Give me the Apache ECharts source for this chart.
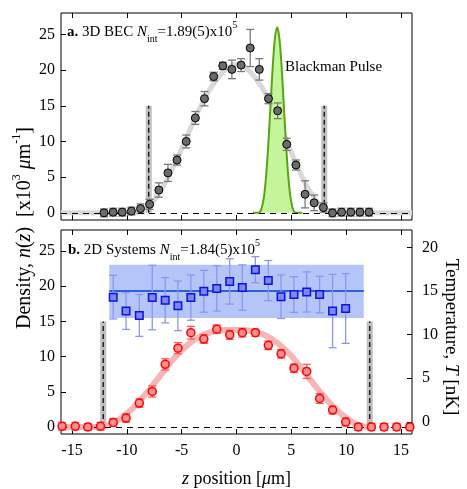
<!DOCTYPE html>
<html>
<head>
<meta charset="utf-8">
<title>Density profiles</title>
<script src="https://cdn.jsdelivr.net/npm/echarts@6/dist/echarts.min.js"></script>
<style>html,body{margin:0;padding:0;background:#fff;}</style>
</head>
<body>
<div id="main" style="width:467px;height:489px;"></div>
<script type="text/javascript">
// panel a: 3D BEC
var becZ = [-12.08, -11.25, -10.42, -9.58, -8.75, -7.92, -7.08, -6.25, -5.42, -4.58, -3.75, -2.92, -2.08, -1.25, -0.42,
            0.42, 1.25, 2.08, 2.92, 3.75, 4.58, 5.42, 6.25, 7.08, 7.92, 8.75, 9.58, 10.42, 11.25, 12.08];
var becN = [0, 0.1, 0.1, 0.25, 0.6, 1.2, 3.2, 5.6, 7.4, 10.0, 13.3, 16.0, 19.1, 20.6, 20.1,
            20.7, 23.1, 20.1, 16.0, 14.3, 9.6, 6.7, 2.6, 1.4, 0.75, 0, 0.1, 0.1, 0.1, 0.1];
var becErr = [0.55, 0.55, 0.55, 0.55, 0.65, 0.7, 1.0, 1.2, 0.7, 0.9, 0.9, 1.0, 0.6, 0.5, 1.3,
              0.9, 2.6, 1.5, 0.7, 1.1, 0.85, 0.7, 1.9, 1.1, 0.65, 0.55, 0.55, 0.55, 0.55, 0.55];
var becFitZ = [-16, -10, -9.5, -9, -8.5, -8, -7.5, -7, -6.5, -6, -5.5, -5, -4.5, -4, -3.5, -3, -2.5, -2, -1.5, -1, -0.5, 0,
               0.5, 1, 1.5, 2, 2.5, 3, 3.5, 4, 4.5, 5, 5.5, 6, 6.5, 7, 7.5, 8, 8.5, 9, 9.5, 10, 16];
var becFit = [0, 0, 0.02, 0.1, 0.4, 1.0, 1.8, 2.9, 4.2, 5.7, 7.3, 9.0, 10.8, 12.5, 14.2, 15.7, 17.1, 18.3, 19.3, 20.1, 20.6, 20.8,
              20.6, 20.1, 19.3, 18.3, 17.1, 15.6, 14.0, 12.2, 10.4, 8.5, 6.7, 5.0, 3.5, 2.3, 1.3, 0.6, 0.2, 0.05, 0, 0, 0];
var pulseZ = [1.5, 2.0, 2.1, 2.3, 2.5, 2.7, 2.9, 3.1, 3.3, 3.5, 3.7, 3.9, 4.1, 4.3, 4.5, 4.7, 4.9, 5.1, 5.3, 5.5, 6.0];
var pulseN = [0, 0, 0.05, 0.7, 2.2, 5.2, 9.6, 15.0, 20.4, 24.4, 26.0, 24.6, 20.8, 15.4, 10.0, 5.5, 2.4, 0.75, 0.06, 0, 0];
var edgesA = [-8, 8];

// panel b: 2D systems
var sysZ = [-15.9, -14.7, -13.55, -12.4, -11.24, -10.07, -8.86, -7.68, -6.5, -5.34, -4.16, -2.98, -1.8, -0.62,
            0.53, 1.72, 2.9, 4.06, 5.24, 6.4, 7.58, 8.76, 9.95, 11.1, 12.3, 13.45, 14.6, 15.8];
var sysN = [0.1, 0.1, 0, 0.1, 0.65, 1.27, 3.4, 5.05, 8.9, 11.2, 13.4, 12.5, 13.9, 13.1,
            13.4, 13.4, 11.6, 10.4, 8.35, 7.9, 4.05, 2.4, 0.7, 0, 0, 0, 0, 0];
var sysErr = [0.55, 0.55, 0.5, 0.55, 0.55, 0.6, 0.6, 0.8, 0.8, 0.8, 0.9, 0.6, 0.6, 0.65,
              0.6, 0.5, 0.6, 0.6, 0.6, 1.0, 0.7, 0.55, 0.55, 0.5, 0.5, 0.5, 0.5, 0.5];
var sysFitZ = [-16, -12.5, -12, -11.5, -11, -10.5, -10, -9.5, -9, -8.5, -8, -7.5, -7, -6.5, -6, -5.5, -5, -4.5, -4, -3.5, -3, -2.5, -2, -1.5, -1, -0.5, 0,
               0.5, 1, 1.5, 2, 2.5, 3, 3.5, 4, 4.5, 5, 5.5, 6, 6.5, 7, 7.5, 8, 8.5, 9, 9.5, 10, 10.5, 11, 11.5, 12, 12.5, 16];
var sysFit = [0, 0, 0.1, 0.35, 0.75, 1.3, 1.9, 2.6, 3.4, 4.3, 5.2, 6.2, 7.2, 8.2, 9.2, 10.1, 10.9, 11.6, 12.2, 12.7, 13.1, 13.4, 13.6, 13.7, 13.8, 13.8, 13.8,
              13.8, 13.7, 13.6, 13.4, 13.1, 12.7, 12.2, 11.6, 10.9, 10.1, 9.2, 8.2, 7.2, 6.2, 5.2, 4.3, 3.4, 2.6, 1.9, 1.3, 0.75, 0.35, 0.1, 0, 0];
var tempZ = [-11.24, -10.07, -8.86, -7.68, -6.5, -5.34, -4.16, -2.98, -1.8, -0.62, 0.53, 1.72, 2.9, 4.06, 5.24, 6.4, 7.58, 8.76, 9.95];
var tempT = [14.3, 12.7, 12.2, 14.25, 13.95, 13.3, 14.25, 14.97, 15.3, 16.1, 15.4, 17.45, 16.2, 14.35, 14.6, 14.9, 14.6, 12.7, 13.0];
var tempErr = [2.5, 2.1, 2.4, 3.7, 2.6, 2.85, 2.6, 2.4, 2.6, 2.6, 2.6, 1.5, 2.3, 2.5, 2.05, 2.3, 2.1, 4.2, 4.0];
var tempMean = 15.0, tempLow = 11.9, tempHigh = 18.0, bandZ = [-11.6, 11.6];
var edgesB = [-12.15, 12.15];
var edgeTop = 15;

var zTicks = [-15, -10, -5, 0, 5, 10, 15];
var nTicks = [0, 5, 10, 15, 20, 25];
var tTicks = [0, 5, 10, 15, 20];

var FONT = 'Liberation Serif';

function pairs(xs, ys) {
    return xs.map(function (x, i) { return [x, ys[i]]; });
}

function errorBars(zs, vs, es, color, xi, yi) {
    return {
        type: 'custom', xAxisIndex: xi, yAxisIndex: yi, z: 4,
        data: zs.map(function (z, i) { return [z, vs[i] - es[i], vs[i] + es[i]]; }),
        encode: { x: 0, y: [1, 2] },
        renderItem: function (params, api) {
            var lo = api.coord([api.value(0), api.value(1)]);
            var hi = api.coord([api.value(0), api.value(2)]);
            var w = 4;
            var st = { stroke: color, lineWidth: 1.3 };
            return {
                type: 'group', children: [
                    { type: 'line', shape: { x1: lo[0], y1: lo[1], x2: hi[0], y2: hi[1] }, style: st },
                    { type: 'line', shape: { x1: lo[0] - w, y1: lo[1], x2: lo[0] + w, y2: lo[1] }, style: st },
                    { type: 'line', shape: { x1: hi[0] - w, y1: hi[1], x2: hi[0] + w, y2: hi[1] }, style: st }
                ]
            };
        }
    };
}

function edgeBars(xs, xi, yi) {
    return {
        type: 'custom', xAxisIndex: xi, yAxisIndex: yi, z: 2,
        data: xs.map(function (x) { return [x, 0, edgeTop]; }),
        encode: { x: 0, y: [1, 2] },
        renderItem: function (params, api) {
            var lo = api.coord([api.value(0), api.value(1)]);
            var hi = api.coord([api.value(0), api.value(2)]);
            return {
                type: 'group', children: [
                    { type: 'rect', shape: { x: lo[0] - 3, y: hi[1], width: 6, height: lo[1] - hi[1] }, style: { fill: '#bfbfbf' } },
                    { type: 'line', shape: { x1: lo[0], y1: lo[1], x2: hi[0], y2: hi[1] }, style: { stroke: '#000', lineWidth: 1.2, lineDash: [5, 3] } }
                ]
            };
        }
    };
}

function zeroLine() {
    return {
        silent: true, symbol: 'none', label: { show: false },
        lineStyle: { color: '#000', width: 1, type: [6, 5] },
        data: [{ yAxis: 0 }]
    };
}

function xAx(grid, pos, labels) {
    return {
        type: 'value', gridIndex: grid, position: pos, min: -16, max: 16,
        axisLine: { show: false, onZero: false },
        axisTick: { show: true, inside: true, length: 5, lineStyle: { color: '#000' }, customValues: zTicks },
        axisLabel: { show: labels, customValues: zTicks, color: '#000', fontFamily: FONT, fontSize: 16, margin: 9 },
        splitLine: { show: false }
    };
}

function yAx(grid, pos, min, max, ticks) {
    return {
        type: 'value', gridIndex: grid, position: pos, min: min, max: max,
        axisLine: { show: false, onZero: false },
        axisTick: { show: true, inside: true, length: 5, lineStyle: { color: '#000' }, customValues: ticks },
        axisLabel: { show: true, customValues: ticks, color: '#000', fontFamily: FONT, fontSize: 16, margin: pos === 'left' ? 6 : 10 },
        splitLine: { show: false }
    };
}

var myChart = echarts.init(document.getElementById('main'));

var xBottom = xAx(1, 'bottom', true);
xBottom.name = '{i|z} position [{i|\u03bc}m]';
xBottom.nameLocation = 'middle';
xBottom.nameGap = 36;
xBottom.nameTextStyle = { color: '#000', fontFamily: FONT, fontSize: 18, rich: { i: { fontStyle: 'italic', fontFamily: FONT, fontSize: 18 } } };

function panelLabel(x, y, text) {
    return {
        type: 'text', x: x, y: y, z: 10,
        style: {
            text: text, fill: '#000', fontFamily: FONT, fontSize: 15, lineHeight: 24,
            verticalAlign: 'middle',
            rich: {
                b: { fontWeight: 'bold', fontFamily: FONT, fontSize: 15, lineHeight: 24 },
                i: { fontStyle: 'italic', fontFamily: FONT, fontSize: 15, lineHeight: 24 },
                sub: { fontFamily: FONT, fontSize: 10, lineHeight: 18, verticalAlign: 'bottom' },
                sup: { fontFamily: FONT, fontSize: 10, lineHeight: 6, verticalAlign: 'top' }
            }
        }
    };
}

var option = {
    animation: false,
    textStyle: { fontFamily: FONT },
    grid: [
        { left: 61, top: 13, width: 351, height: 207, show: true, borderColor: '#000', borderWidth: 1, backgroundColor: 'transparent' },
        { left: 61, top: 230, width: 351, height: 214, show: true, borderColor: '#000', borderWidth: 1, backgroundColor: 'transparent' }
    ],
    xAxis: [xAx(0, 'bottom', false), xAx(0, 'top', false), xBottom, xAx(1, 'top', false)],
    yAxis: [yAx(0, 'left', -1, 28, nTicks), yAx(1, 'left', -1, 28, nTicks), yAx(1, 'right', -1.4, 22, tTicks)],
    series: [
        // panel a
        {
            type: 'line', xAxisIndex: 0, yAxisIndex: 0, data: pairs(becFitZ, becFit), smooth: 0.3, showSymbol: false, z: 1,
            lineStyle: { color: '#d9d9d9', width: 5 }, markLine: zeroLine()
        },
        edgeBars(edgesA, 0, 0),
        {
            type: 'line', xAxisIndex: 0, yAxisIndex: 0, data: pairs(pulseZ, pulseN), smooth: 0.3, showSymbol: false, z: 3,
            lineStyle: { color: '#58a416', width: 2 }, areaStyle: { color: '#c4f59a', opacity: 1 }
        },
        errorBars(becZ, becN, becErr, '#7a7a7a', 0, 0),
        {
            type: 'scatter', xAxisIndex: 0, yAxisIndex: 0, data: pairs(becZ, becN), symbolSize: 8, z: 5,
            itemStyle: { color: '#6b6b6b', borderColor: '#000', borderWidth: 1, opacity: 1 }
        },
        // panel b
        {
            type: 'custom', xAxisIndex: 2, yAxisIndex: 2, z: 1,
            data: [[bandZ[0], bandZ[1], tempLow, tempHigh]],
            encode: { x: [0, 1], y: [2, 3] },
            renderItem: function (params, api) {
                var a = api.coord([api.value(0), api.value(3)]);
                var b = api.coord([api.value(1), api.value(2)]);
                return { type: 'rect', shape: { x: a[0], y: a[1], width: b[0] - a[0], height: b[1] - a[1] }, style: { fill: '#b5c5f7' } };
            }
        },
        {
            type: 'line', xAxisIndex: 2, yAxisIndex: 2, data: [[bandZ[0], tempMean], [bandZ[1], tempMean]], showSymbol: false, z: 2,
            lineStyle: { color: '#2862dc', width: 2 }
        },
        edgeBars(edgesB, 2, 1),
        {
            type: 'line', xAxisIndex: 2, yAxisIndex: 1, data: pairs(sysFitZ, sysFit), smooth: 0.3, showSymbol: false, z: 2,
            lineStyle: { color: '#f7b6b6', width: 6 }, markLine: zeroLine()
        },
        errorBars(sysZ, sysN, sysErr, '#ff5a5a', 2, 1),
        {
            type: 'scatter', xAxisIndex: 2, yAxisIndex: 1, data: pairs(sysZ, sysN), symbolSize: 8, z: 5,
            itemStyle: { color: '#ff9090', borderColor: '#ff0000', borderWidth: 1.5, opacity: 1 }
        },
        errorBars(tempZ, tempT, tempErr, '#8d95f4', 2, 2),
        {
            type: 'scatter', xAxisIndex: 2, yAxisIndex: 2, data: pairs(tempZ, tempT), symbol: 'rect', symbolSize: 7.5, z: 5,
            itemStyle: { color: '#7d87f2', borderColor: '#0a14e6', borderWidth: 1.5, opacity: 1 }
        }
    ],
    graphic: [
        panelLabel(67, 32, '{b|a.} 3D BEC {i|N}{sub|int}=1.89(5)x10{sup|5}'),
        panelLabel(68, 250, '{b|b.} 2D Systems {i|N}{sub|int}=1.84(5)x10{sup|5}'),
        {
            type: 'text', x: 285, y: 67, z: 10,
            style: { text: 'Blackman Pulse', fill: '#000', fontFamily: FONT, fontSize: 15, verticalAlign: 'middle' }
        },
        {
            type: 'text', x: 25, y: 228, rotation: Math.PI / 2, z: 10,
            style: {
                text: 'Density, {i|n}({i|z})  [x10{sup|3} {i|\u03bc}m{sup|-1}]', fill: '#000', fontFamily: FONT, fontSize: 20, lineHeight: 28,
                align: 'center', verticalAlign: 'middle',
                rich: {
                    i: { fontStyle: 'italic', fontFamily: FONT, fontSize: 20, lineHeight: 28 },
                    sup: { fontFamily: FONT, fontSize: 12, lineHeight: 6, verticalAlign: 'top' }
                }
            }
        },
        {
            type: 'text', x: 451, y: 337, rotation: -Math.PI / 2, z: 10,
            style: {
                text: 'Temperature, {i|T} [nK]', fill: '#000', fontFamily: FONT, fontSize: 19,
                align: 'center', verticalAlign: 'middle',
                rich: { i: { fontStyle: 'italic', fontFamily: FONT, fontSize: 19 } }
            }
        }
    ]
};

myChart.setOption(option);
</script>
</body>
</html>
